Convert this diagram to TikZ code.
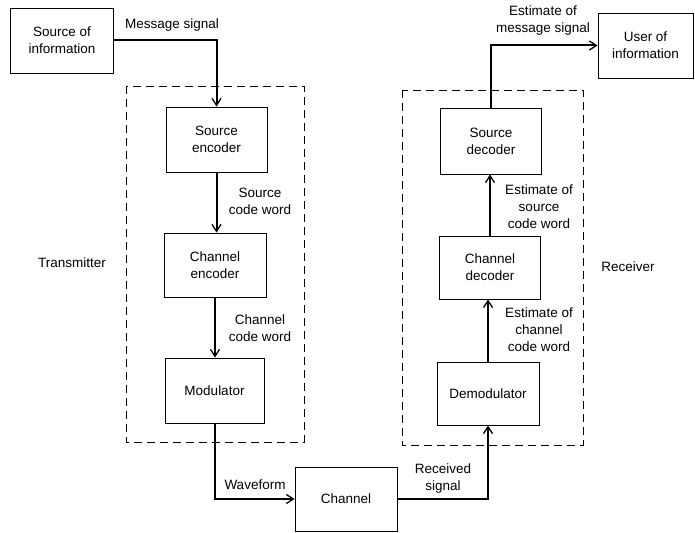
\documentclass[tikz,border=0pt]{standalone}
\usepackage{fontspec}
\setmainfont{Liberation Sans}
\usetikzlibrary{arrows.meta}
\begin{document}
\begin{tikzpicture}[x=1pt,y=-1pt,
  box/.style={draw, line width=0.9pt, align=center, inner sep=0pt},
  conn/.style={line width=2pt, -{Straight Barb[length=7pt,width=9pt,line width=1.3pt]}},
  lbl/.style={align=center, inner sep=0pt},
  group/.style={draw, line width=0.9pt, dash pattern=on 8pt off 5pt},
  every node/.append style={font=\fontsize{13.5}{17}\selectfont}]
\useasboundingbox (0,0) rectangle (695,532);
% groups
\draw[group] (126,86) rectangle (304,442);
\draw[group] (402,90) rectangle (583,445);
% boxes
\node[box, minimum width=103pt, minimum height=65pt] (src) at (62,40.5) {Source of\\information};
\node[box, minimum width=101pt, minimum height=65pt] (se) at (216.5,139.5) {Source\\encoder};
\node[box, minimum width=102pt, minimum height=64pt] (ce) at (215,265) {Channel\\encoder};
\node[box, minimum width=99pt, minimum height=65pt] (mod) at (214.5,390.5) {Modulator};
\node[box, minimum width=102pt, minimum height=64pt] (ch) at (346,499) {Channel};
\node[box, minimum width=102pt, minimum height=63pt] (dem) at (488,393.5) {Demodulator};
\node[box, minimum width=101pt, minimum height=63pt] (cd) at (490,267.5) {Channel\\decoder};
\node[box, minimum width=101pt, minimum height=66pt] (sd) at (491,141) {Source\\decoder};
\node[box, minimum width=95pt, minimum height=65pt] (user) at (645.5,45.5) {User of\\information};
% connectors
\draw[conn] (src.east) -| (se.north);
\draw[conn] (se.south) -- (se.south |- ce.north);
\draw[conn] (ce.south) -- (ce.south |- mod.north);
\draw[conn] (mod.south) |- (ch.west);
\draw[conn] (ch.east) -| (dem.south);
\draw[conn] (dem.north) -- (dem.north |- cd.south);
\draw[conn] (cd.north) -- (cd.north |- sd.south);
\draw[conn] (sd.north) |- (user.west);
% labels
\node[lbl] (l1) at (172,25) {Message signal};
\node[lbl] (l2) at (260,201) {Source\\code word};
\node[lbl] (l3) at (260,328) {Channel\\code word};
\node[lbl] (l4) at (255,485) {Waveform};
\node[lbl] (l5) at (443,479) {Received\\signal};
\node[lbl] (l6) at (539,207) {Estimate of\\source\\code word};
\node[lbl] (l7) at (539,330) {Estimate of\\channel\\code word};
\node[lbl] (l8) at (543,21) {Estimate of\\message signal};
\node[lbl] (l9) at (72,263) {Transmitter};
\node[lbl] (l10) at (628,267) {Receiver};
\end{tikzpicture}
\end{document}
